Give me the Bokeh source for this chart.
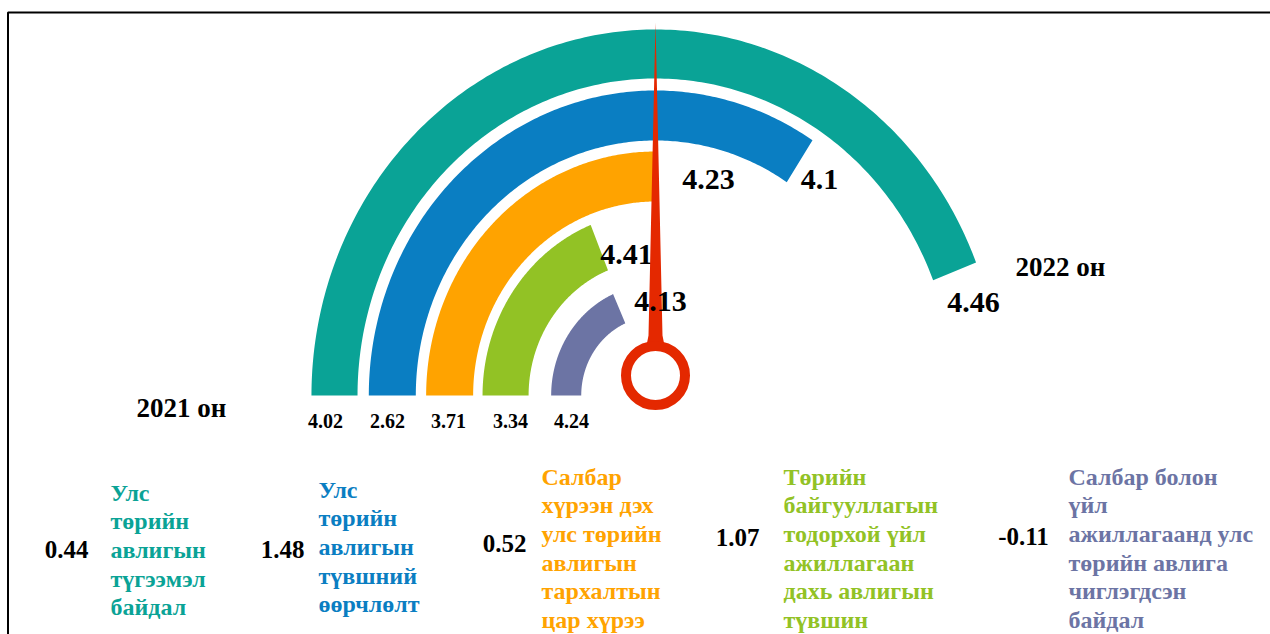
import numpy as np
from bokeh.plotting import figure
from bokeh.models import Range1d, ColumnDataSource
from bokeh.core.properties import value
from bokeh.embed import file_html
from bokeh.resources import INLINE

# ---------------- data ----------------
series_names = [
    "Улс\nтөрийн\nавлигын\nтүгээмэл\nбайдал",
    "Улс\nтөрийн\nавлигын\nтүвшний\nөөрчлөлт",
    "Салбар\nхүрээн дэх\nулс төрийн\nавлигын\nтархалтын\nцар хүрээ",
    "Төрийн\nбайгууллагын\nтодорхой үйл\nажиллагаан\nдахь авлигын\nтүвшин",
    "Салбар болон\nүйл\nажиллагаанд улс\nтөрийн авлига\nчиглэгдсэн\nбайдал",
]
values_2021 = [4.02, 2.62, 3.71, 3.34, 4.24]
values_2022 = [4.46, 4.1, 4.23, 4.41, 4.13]
differences = [0.44, 1.48, 0.52, 1.07, -0.11]
ring_sweep_deg = [158.7, 123.2, 89.5, 68.0, 66.0]   # doughnut share of each ring
year_labels = ["2021 он", "2022 он"]

# ---------------- styles / layout ----------------
colors = ["#0aa396", "#0a7ec2", "#ffa300", "#92c225", "#6c74a4"]
needle_color = "#e42800"
FONT = value("Liberation Serif")

W, H = 1270, 634
CX, CY, KX = 655, 395, 0.94
R_OUT = [366, 305, 244, 184, 111]
R_IN = [317, 255, 194, 135, 79]

p = figure(width=W, height=H, output_backend="svg", toolbar_location=None,
           x_range=Range1d(0, W), y_range=Range1d(H, 0),
           min_border=0)
p.axis.visible = False
p.grid.visible = False
p.outline_line_color = None
p.background_fill_color = "white"
p.border_fill_color = "white"

# frame lines (left and top edges of the chart box)
p.line(x=[7.5, 7.5, W + 5], y=[H + 5, 12, 12], line_color="black", line_width=2)

# ---------------- rings ----------------
xs, ys = [], []
for sweep, ro, ri in zip(ring_sweep_deg, R_OUT, R_IN):
    th = np.linspace(np.pi, np.pi - np.radians(sweep), 200)
    x = np.concatenate([CX + KX * ro * np.cos(th), CX + KX * ri * np.cos(th[::-1])])
    y = np.concatenate([CY - ro * np.sin(th), CY - ri * np.sin(th[::-1])])
    xs.append(x.tolist())
    ys.append(y.tolist())
p.patches(xs=xs, ys=ys, fill_color=colors, line_color=None)

# ---------------- labels of rings ----------------
lab22_x = [973, 819, 708, 626, 660]
lab22_y = [302, 179, 179, 254, 301]
lab21_x = [325, 387, 448, 510, 571]
lab21_y = 420

def fmt(v):
    return f"{v:g}"

p.text(x=lab22_x[:4], y=lab22_y[:4], text=[fmt(v) for v in values_2022[:4]],
       text_font=FONT, text_font_style="bold", text_font_size="30px",
       text_align="center", text_baseline="middle", text_color="black")

# needle
p.patch(x=[CX, CX + 7, CX + 9, CX - 9, CX - 7], y=[22, 335, 345, 345, 335],
        fill_color=needle_color, line_color=None)
p.circle(x=[CX], y=[375], radius=29.5, fill_color="white",
         line_color=needle_color, line_width=10)

p.text(x=lab22_x[4:], y=lab22_y[4:], text=[fmt(v) for v in values_2022[4:]],
       text_font=FONT, text_font_style="bold", text_font_size="30px",
       text_align="center", text_baseline="middle", text_color="black")

p.text(x=lab21_x, y=[lab21_y] * 5, text=[f"{v:.2f}" for v in values_2021],
       text_font=FONT, text_font_style="bold", text_font_size="20px",
       text_align="center", text_baseline="middle", text_color="black")

p.text(x=[181, 1060], y=[407, 266], text=year_labels,
       text_font=FONT, text_font_style="bold", text_font_size="27px",
       text_align="center", text_baseline="middle", text_color="black")

# ---------------- bottom legend ----------------
diff_x = [66, 282, 504, 737, 1023]
diff_y = [549, 549, 543, 537, 536]
p.text(x=diff_x, y=diff_y, text=[f"{d:.2f}" for d in differences],
       text_font=FONT, text_font_style="bold", text_font_size="25px",
       text_align="center", text_baseline="middle", text_color="black")

name_x = [110, 318, 541, 783, 1068]
name_y0 = [492, 489, 476, 476, 476]
LINE = 28.7
lx, ly, lt, lc = [], [], [], []
for name, x, y0, c in zip(series_names, name_x, name_y0, colors):
    for k, line in enumerate(name.split("\n")):
        lx.append(x)
        ly.append(y0 + k * LINE)
        lt.append(line)
        lc.append(c)
src = ColumnDataSource(dict(x=lx, y=ly, text=lt, color=lc))
p.text(x="x", y="y", text="text", text_color="color", source=src,
       text_font=FONT, text_font_style="bold", text_font_size="24px",
       text_align="left", text_baseline="middle")

open("out.html", "w").write(file_html(p, INLINE))
